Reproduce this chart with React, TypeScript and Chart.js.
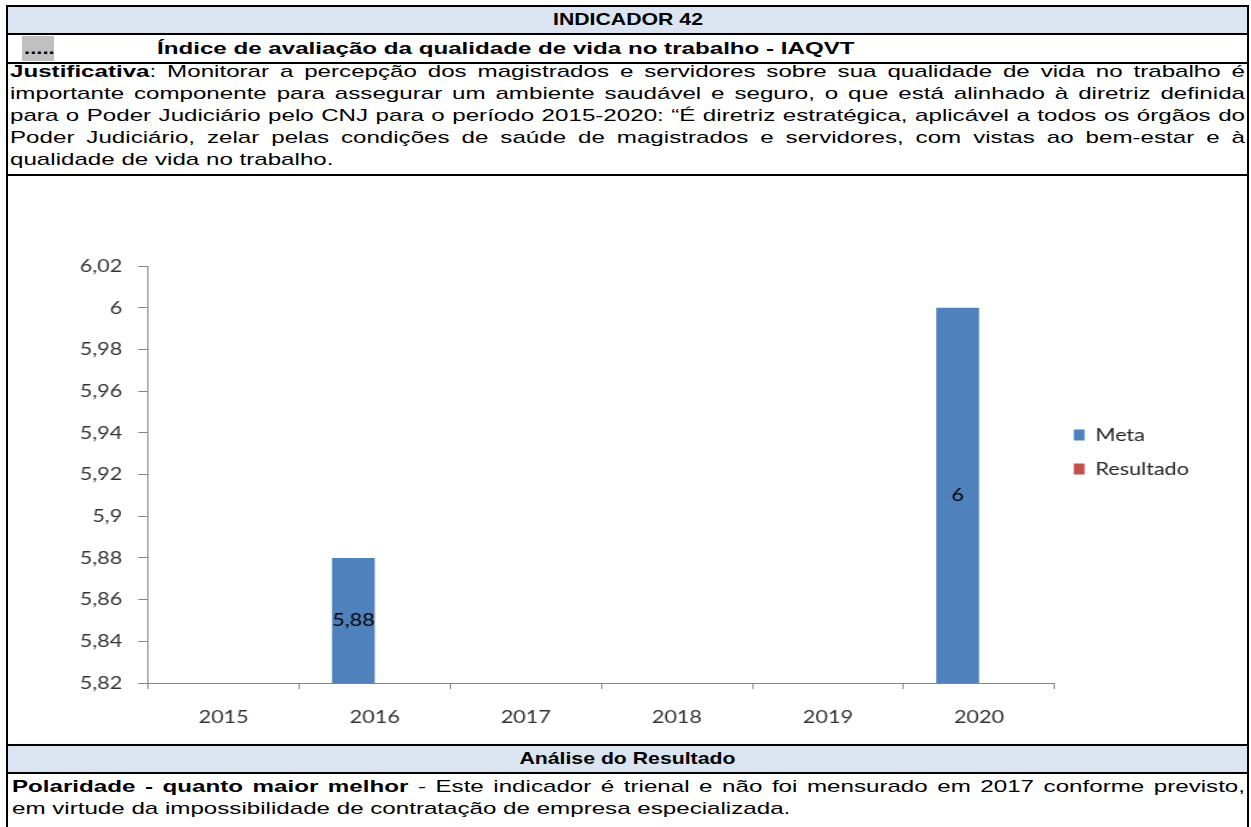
import React, { useEffect, useLayoutEffect, useRef } from 'react';
import { Chart, registerables } from 'chart.js';

Chart.register(...registerables);

// ---------- data ----------
const categories = ['2015', '2016', '2017', '2018', '2019', '2020'];
const seriesNames = ['Meta', 'Resultado'];
const metaValues: (number | null)[] = [null, 5.88, null, null, null, 6];
const resultadoValues: (number | null)[] = [null, null, null, null, null, null];
const seriesColors = ['#4f81bd', '#c0504d'];
const yMin = 5.82;
const yMax = 6.02;
const yStep = 0.02;

const headerTitle = 'INDICADOR 42';
const indicatorDots = '.....';
const indicatorName = 'Índice de avaliação da qualidade de vida no trabalho - IAQVT';
const justificativaLabel = 'Justificativa';
const justificativaLines = [
  ': Monitorar a percepção dos magistrados e servidores sobre sua qualidade de vida no trabalho é',
  'importante componente para assegurar um ambiente saudável e seguro, o que está alinhado à diretriz definida',
  'para o Poder Judiciário pelo CNJ para o período 2015-2020: “É diretriz estratégica, aplicável a todos os órgãos do',
  'Poder Judiciário, zelar pelas condições de saúde de magistrados e servidores, com vistas ao bem-estar e à',
  'qualidade de vida no trabalho.',
];
const analiseTitle = 'Análise do Resultado';
const analiseLabel = 'Polaridade - quanto maior melhor';
const analiseLines = [
  ' - Este indicador é trienal e não foi mensurado em 2017 conforme previsto,',
  'em virtude da impossibilidade de contratação de empresa especializada.',
];

// ---------- styles ----------
const TEXT_FONT = '"Liberation Sans", Arial, Helvetica, sans-serif';
const CHART_FONT = 'Lato, "Open Sans", sans-serif';
const CHART_FONT_SIZE = 18;
const TEXT_STRETCH = 1.42;
const HEAD_STRETCH = 1.25;
const HEAD_BG = '#dbe5f1';

const fmt = (v: number) => String(Math.round(v * 100) / 100).replace('.', ',');

type LineProps = {
  x: number;
  top: number;
  width: number;
  height: number;
  stretch: number;
  justify?: boolean;
  center?: boolean;
  bold?: boolean;
  children: React.ReactNode;
};

function StretchLine({ x, top, width, height, stretch, justify, center, bold, children }: LineProps) {
  const ref = useRef<HTMLSpanElement>(null);
  useLayoutEffect(() => {
    const fit = () => {
      const el = ref.current;
      if (!el) return;
      el.style.wordSpacing = '0px';
      el.style.transform = 'none';
      const n = el.getBoundingClientRect().width;
      let s = stretch;
      if (justify) {
        const spaces = (el.textContent || '').split(' ').length - 1;
        const extra = width / stretch - n;
        if (extra >= 0 && spaces > 0) el.style.wordSpacing = extra / spaces + 'px';
        else s = width / n;
      }
      el.style.transform = `scaleX(${s})`;
    };
    fit();
    const f: any = (document as any).fonts;
    if (f && f.ready) f.ready.then(fit);
  }, []);
  return (
    <div
      style={{
        position: 'absolute',
        left: x,
        top,
        width,
        height,
        lineHeight: height + 'px',
        textAlign: center ? 'center' : 'left',
        whiteSpace: 'nowrap',
        fontFamily: TEXT_FONT,
        fontSize: 17,
        fontWeight: bold ? 'bold' : 'normal',
        color: '#000',
      }}
    >
      <span
        ref={ref}
        style={{
          display: 'inline-block',
          whiteSpace: 'pre',
          transformOrigin: center ? '50% 0' : '0 0',
        }}
      >
        {children}
      </span>
    </div>
  );
}

const CANVAS_W = 1032;
const CANVAS_H = 568;
const CANVAS_DISPLAY_W = 1239;
const AREA_LEFT = 116.7;
const AREA_RIGHT = 871.7;
const LEG_PAD = 16;
const LEG_BOX_W = 9;

function ChartBox() {
  const ref = useRef<HTMLCanvasElement>(null);
  useEffect(() => {
    const canvas = ref.current;
    if (!canvas) return;
    const fontStr = `${CHART_FONT_SIZE}px ${CHART_FONT}`;

    // legend width (as Chart.js computes it) to place the plot area's right edge
    const mctx = document.createElement('canvas').getContext('2d') as CanvasRenderingContext2D;
    mctx.font = fontStr;
    const maxText = Math.max(...seriesNames.map((n) => mctx.measureText(n).width));
    const legendW = LEG_PAD + LEG_BOX_W + CHART_FONT_SIZE / 2 + maxText + 10;
    const padRight = CANVAS_W - AREA_RIGHT - legendW;

    const valueLabels = {
      id: 'valueLabels',
      afterDraw(chart: any) {
        const ctx: CanvasRenderingContext2D = chart.ctx;
        const yScale = chart.scales.y;
        ctx.save();
        ctx.font = fontStr;
        ctx.fillStyle = '#000000';
        ctx.textAlign = 'center';
        ctx.textBaseline = 'middle';
        chart.data.datasets.forEach((ds: any, di: number) => {
          const meta = chart.getDatasetMeta(di);
          meta.data.forEach((el: any, i: number) => {
            const v = ds.data[i];
            if (v == null) return;
            const top = yScale.getPixelForValue(v);
            const base = yScale.getPixelForValue(yMin);
            ctx.fillText(fmt(v), el.x, (top + base) / 2);
          });
        });
        ctx.restore();
      },
    };
    const axisColor = '#868686';
    const tickColor = '#333333';
    const chart = new Chart(canvas, {
      type: 'bar',
      data: {
        labels: categories,
        datasets: [
          {
            label: seriesNames[0],
            data: metaValues,
            backgroundColor: seriesColors[0],
            borderWidth: 0,
            categoryPercentage: 0.566,
            barPercentage: 1,
          },
          {
            label: seriesNames[1],
            data: resultadoValues,
            backgroundColor: seriesColors[1],
            borderWidth: 0,
            categoryPercentage: 0.566,
            barPercentage: 1,
          },
        ],
      } as any,
      options: {
        responsive: false,
        animation: false,
        devicePixelRatio: 1,
        layout: { padding: { left: 0, right: padRight, top: 0, bottom: 16 } },
        plugins: {
          title: {
            display: true,
            text: '',
            fullSize: false,
            padding: { top: 80, bottom: 0 },
            font: { size: 10, lineHeight: 1 },
          },
          legend: {
            display: true,
            position: 'right',
            labels: {
              boxWidth: LEG_BOX_W,
              boxHeight: 11,
              padding: LEG_PAD,
              color: '#262626',
              font: { family: CHART_FONT, size: CHART_FONT_SIZE },
            },
          },
          tooltip: { enabled: false },
        },
        scales: {
          x: {
            grid: {
              offset: true,
              drawOnChartArea: false,
              drawTicks: true,
              tickLength: 6,
              color: axisColor,
            },
            border: { display: true, color: axisColor, width: 1 },
            ticks: {
              padding: 17,
              maxRotation: 0,
              color: tickColor,
              font: { family: CHART_FONT, size: CHART_FONT_SIZE },
            },
            afterFit: (scale: any) => {
              scale.height = 45;
            },
          },
          y: {
            min: yMin,
            max: yMax,
            grid: {
              drawOnChartArea: false,
              drawTicks: true,
              tickLength: 8.3,
              color: axisColor,
            },
            border: { display: true, color: axisColor, width: 1 },
            ticks: {
              stepSize: yStep,
              padding: 13.3,
              color: tickColor,
              font: { family: CHART_FONT, size: CHART_FONT_SIZE },
              callback: (v: any) => fmt(Number(v)),
            },
            afterFit: (scale: any) => {
              scale.width = AREA_LEFT;
            },
          },
        },
      } as any,
      plugins: [valueLabels],
    });
    return () => chart.destroy();
  }, []);
  return (
    <div style={{ position: 'absolute', left: 8, top: 176, width: CANVAS_DISPLAY_W, height: CANVAS_H, overflow: 'hidden' }}>
      <canvas
        ref={ref}
        width={CANVAS_W}
        height={CANVAS_H}
        style={{
          display: 'block',
          width: CANVAS_W,
          height: CANVAS_H,
          transform: `scaleX(${CANVAS_DISPLAY_W / CANVAS_W})`,
          transformOrigin: '0 0',
        }}
      />
    </div>
  );
}

const box = (left: number, top: number, width: number, height: number, bg: string): React.CSSProperties => ({
  position: 'absolute',
  left,
  top,
  width,
  height,
  background: bg,
});

export default function App() {
  const justTops = [61, 83, 105, 127, 149];
  const anaTops = [776, 798];
  return (
    <div style={{ position: 'absolute', left: 0, top: 0, width: 1251, height: 827, background: '#fff', overflow: 'hidden' }}>
      {/* backgrounds */}
      <div style={box(8, 7, 1239, 26, HEAD_BG)} />
      <div style={box(8, 746, 1239, 26, HEAD_BG)} />
      <div style={box(22, 36, 32, 25, '#c0c0c0')} />

      {/* header rows */}
      <StretchLine x={8} top={7} width={1239} height={26} stretch={HEAD_STRETCH} center bold>
        {headerTitle}
      </StretchLine>
      <StretchLine x={24} top={35} width={40} height={27} stretch={1.3} bold>
        {indicatorDots}
      </StretchLine>
      <StretchLine x={157} top={35} width={1000} height={27} stretch={TEXT_STRETCH} bold>
        {indicatorName}
      </StretchLine>

      {/* justificativa */}
      {justificativaLines.map((line, i) => (
        <StretchLine
          key={'j' + i}
          x={10}
          top={justTops[i]}
          width={1235}
          height={22}
          stretch={TEXT_STRETCH}
          justify={i < justificativaLines.length - 1}
        >
          {i === 0 ? (
            <>
              <b>{justificativaLabel}</b>
              {line}
            </>
          ) : (
            line
          )}
        </StretchLine>
      ))}

      <ChartBox />

      {/* análise */}
      <StretchLine x={8} top={746} width={1239} height={26} stretch={HEAD_STRETCH} center bold>
        {analiseTitle}
      </StretchLine>
      {analiseLines.map((line, i) => (
        <StretchLine
          key={'a' + i}
          x={12}
          top={anaTops[i]}
          width={1233}
          height={22}
          stretch={TEXT_STRETCH}
          justify={i < analiseLines.length - 1}
        >
          {i === 0 ? (
            <>
              <b>{analiseLabel}</b>
              {line}
            </>
          ) : (
            line
          )}
        </StretchLine>
      ))}

      {/* table borders */}
      <div style={box(6, 5, 1243, 2, '#000')} />
      <div style={box(6, 5, 2, 822, '#000')} />
      <div style={box(1247, 5, 2, 822, '#000')} />
      <div style={box(6, 33, 1243, 2, '#000')} />
      <div style={box(6, 62, 1243, 2, '#000')} />
      <div style={box(6, 174, 1243, 2, '#000')} />
      <div style={box(6, 744, 1243, 2, '#000')} />
      <div style={box(6, 772, 1243, 2, '#000')} />
    </div>
  );
}
